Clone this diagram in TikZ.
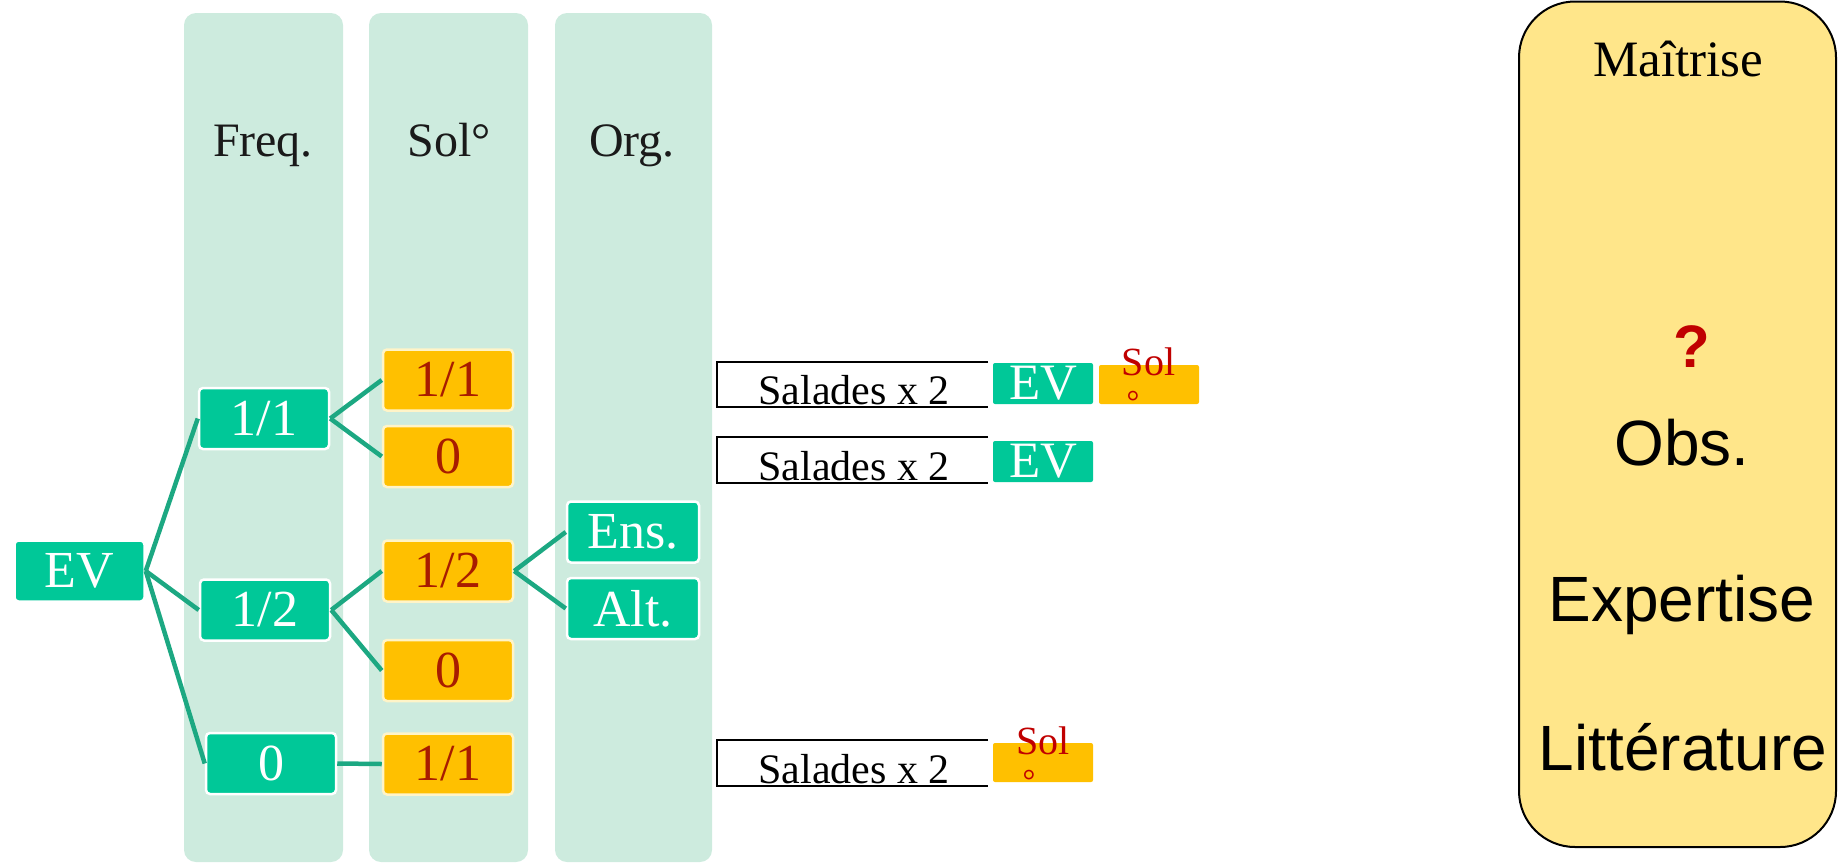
\documentclass[tikz,border=0pt]{standalone}
\usepackage{fontspec}
\setmainfont{Liberation Serif}
\newfontfamily\arialfont{Liberation Sans}
\definecolor{lanemint}{HTML}{CDEBDE}
\definecolor{boxgreen}{HTML}{00C898}
\definecolor{boxorange}{HTML}{FFC000}
\definecolor{orangerim}{HTML}{FFF4C8}
\definecolor{solred}{HTML}{A81C00}
\definecolor{brightred}{HTML}{C00000}
\definecolor{linkteal}{HTML}{1CA882}
\definecolor{panelyellow}{HTML}{FFE68A}
\definecolor{headgray}{HTML}{1A1A1A}
\tikzset{
  lane/.style={fill=lanemint, rounded corners=12pt},
  gbox/.style={rectangle, fill=boxgreen, draw=white, line width=2.5pt,
    rounded corners=4pt, minimum width=130pt, minimum height=61pt,
    inner sep=0pt, text=white, font=\fontsize{52}{60}\selectfont},
  obox/.style={gbox, fill=boxorange, draw=orangerim, text=solred},
  link/.style={draw=linkteal, line width=4.5pt},
  hdr/.style={anchor=base, inner sep=0pt, text=headgray,
    font=\fontsize{48}{56}\selectfont},
  frameline/.style={draw=black, line width=2pt},
  salade/.style={anchor=base, inner sep=0pt, font=\fontsize{42}{50}\selectfont},
  sgbox/.style={rectangle, fill=boxgreen, rounded corners=2pt,
    minimum width=100pt, minimum height=41pt, inner sep=0pt, text=white,
    font=\fontsize{51}{56}\selectfont},
  sobox/.style={rectangle, fill=boxorange, rounded corners=2pt,
    minimum width=100pt, minimum height=39pt, inner sep=0pt},
  soltxt/.style={anchor=base, inner sep=0pt, text=brightred,
    font=\fontsize{40}{46}\selectfont},
  degtxt/.style={anchor=base, inner sep=0pt, text=brightred,
    font=\fontsize{32}{36}\selectfont},
  paneltxt/.style={anchor=base, inner sep=0pt, text=black,
    font=\arialfont\fontsize{64}{72}\selectfont}
}
\begin{document}
\begin{tikzpicture}[x=1pt, y=-1pt]
\useasboundingbox (0,0) rectangle (1843,865);

% column lanes
\path[lane] (184,13) rectangle (343,862);
\path[lane] (369,13) rectangle (528,862);
\path[lane] (555,13) rectangle (712,862);

% column headings
\node[hdr] (hfreq) at (263,156) {Freq.};
\node[hdr] (hsol)  at (449,156) {Sol°};
\node[hdr] (horg)  at (632,156) {Org.};

% decision tree
\node[gbox] (ev)   at (79.5,571) {EV};
\node[gbox] (f11)  at (264,418.5) {1/1};
\node[gbox] (f12)  at (265,610) {1/2};
\node[gbox] (f0)   at (271,763.5) {0};
\node[obox] (s11)  at (448,380) {1/1};
\node[obox] (s0a)  at (448,456.5) {0};
\node[obox] (s12)  at (448,571) {1/2};
\node[obox] (s0b)  at (448,670.5) {0};
\node[obox] (s11b) at (448,764) {1/1};
\node[gbox, minimum width=132pt] (ens) at (633,532) {Ens.};
\node[gbox, minimum width=132pt] (alt) at (633,608.5) {Alt.};

\draw[link] (ev.east) -- (f11.west);
\draw[link] (ev.east) -- (f12.west);
\draw[link] (ev.east) -- (f0.west);
\draw[link] (f11.east) -- (s11.west);
\draw[link] (f11.east) -- (s0a.west);
\draw[link] (f12.east) -- (s12.west);
\draw[link] (f12.east) -- (s0b.west);
\draw[link] (f0.east) -- (s11b.west);
\draw[link] (s12.east) -- (ens.west);
\draw[link] (s12.east) -- (alt.west);

% first salad line
\draw[frameline] (988,362) -- (717,362) -- (717,407) -- (988,407);
\node[salade] (sal1) at (854,404) {Salades x 2};
\node[sgbox] (ev1) at (1043,383.5) {EV};
\node[sobox] (so1) at (1149,384.5) {};
\node[soltxt] (sol1) at (1148.5,375) {Sol};
\node[degtxt] (deg1) at (1133,412) {°};

% second salad line
\draw[frameline] (988,437) -- (717,437) -- (717,483) -- (988,483);
\node[salade] (sal2) at (854,480) {Salades x 2};
\node[sgbox] (ev2) at (1043,461.5) {EV};

% third salad line
\draw[frameline] (988,740) -- (717,740) -- (717,786) -- (988,786);
\node[salade] (sal3) at (854,783) {Salades x 2};
\node[sobox] (so3) at (1043,762.5) {};
\node[soltxt] (sol3) at (1043,754) {Sol};
\node[degtxt] (deg3) at (1029,791) {°};

% mastery panel
\draw[fill=panelyellow, draw=black, line width=2pt, rounded corners=56pt]
  (1519,1.5) rectangle (1836,847);
\node[anchor=base, inner sep=0pt, font=\fontsize{51}{58}\selectfont]
  (maitrise) at (1678,76) {Maîtrise};
\node[anchor=base, inner sep=0pt, text=brightred,
  font=\arialfont\bfseries\fontsize{60}{66}\selectfont] (qmark) at (1692,367) {?};
\node[paneltxt] (obs) at (1682,465) {Obs.};
\node[paneltxt] (expert) at (1682,621) {Expertise};
\node[paneltxt] (litt) at (1683,770) {Littérature};
\end{tikzpicture}
\end{document}
